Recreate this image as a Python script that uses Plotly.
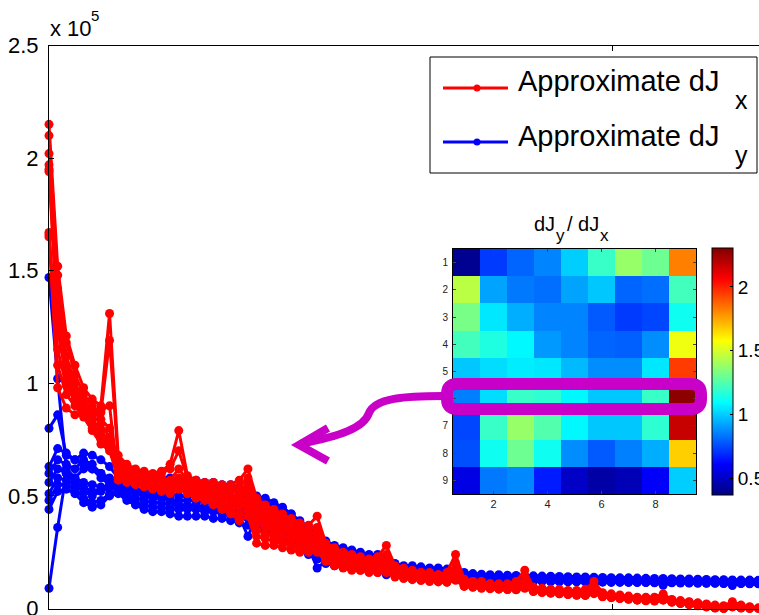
import plotly.graph_objects as go

# ---------------- data (values in units of 1e5) ----------------
idx = list(range(1, 84))

dJx_1 = [2.15, 1.52, 1.21, 1.08, 0.98, 0.93, 0.90, 1.31,
         0.68, 0.64, 0.62, 0.61, 0.60, 0.61, 0.64, 0.79,
         0.59, 0.57, 0.56, 0.56, 0.55, 0.55, 0.57, 0.62,
         0.49, 0.46, 0.44, 0.42, 0.40, 0.38, 0.37, 0.41,
         0.29, 0.27, 0.25, 0.24, 0.23, 0.22, 0.23, 0.28,
         0.19, 0.18, 0.17, 0.16, 0.16, 0.15, 0.16, 0.24,
         0.13, 0.12, 0.12, 0.11, 0.11, 0.11, 0.12, 0.17,
         0.095, 0.09, 0.085, 0.085, 0.08, 0.08, 0.085, 0.12,
         0.07, 0.065, 0.06, 0.055, 0.05, 0.05, 0.05, 0.065,
         0.04, 0.035, 0.03, 0.025, 0.02, 0.015, 0.012, 0.03,
         0.015, 0.008, 0.003]
dJx_2 = [2.10, 1.48, 1.18, 1.04, 0.95, 0.90, 0.87, 1.19,
         0.66, 0.63, 0.61, 0.60, 0.59, 0.60, 0.62, 0.70,
         0.58, 0.56, 0.55, 0.54, 0.54, 0.53, 0.54, 0.58,
         0.47, 0.44, 0.42, 0.40, 0.38, 0.36, 0.35, 0.36,
         0.28, 0.26, 0.24, 0.23, 0.22, 0.21, 0.21, 0.24,
         0.18, 0.17, 0.16, 0.16, 0.15, 0.15, 0.15, 0.20,
         0.125, 0.12, 0.115, 0.11, 0.105, 0.10, 0.105, 0.14,
         0.09, 0.085, 0.08, 0.08, 0.075, 0.075, 0.075, 0.10,
         0.065, 0.06, 0.055, 0.05, 0.048, 0.045, 0.045, 0.055,
         0.038, 0.032, 0.028, 0.022, 0.018, 0.012, 0.008, 0.022,
         0.012, 0.006, 0.0]
dJx_3 = [2.02, 1.42, 1.12, 1.00, 0.93, 0.88, 0.84, 0.80,
         0.65, 0.62, 0.60, 0.59, 0.58, 0.58, 0.57, 0.62,
         0.57, 0.55, 0.54, 0.53, 0.52, 0.52, 0.52, 0.55,
         0.45, 0.42, 0.40, 0.38, 0.36, 0.35, 0.33, 0.34,
         0.27, 0.25, 0.23, 0.22, 0.21, 0.20, 0.20, 0.22,
         0.17, 0.16, 0.155, 0.15, 0.145, 0.14, 0.14, 0.17,
         0.12, 0.115, 0.11, 0.105, 0.10, 0.10, 0.10, 0.12,
         0.088, 0.083, 0.08, 0.076, 0.073, 0.07, 0.07, 0.085,
         0.062, 0.058, 0.053, 0.05, 0.046, 0.043, 0.042, 0.05,
         0.036, 0.03, 0.025, 0.02, 0.015, 0.01, 0.006, 0.018,
         0.01, 0.004, -0.002]
dJx_4 = [1.97, 1.36, 1.08, 0.97, 0.91, 0.86, 0.82, 0.76,
         0.63, 0.61, 0.59, 0.58, 0.57, 0.57, 0.56, 0.58,
         0.56, 0.54, 0.53, 0.52, 0.51, 0.50, 0.50, 0.52,
         0.43, 0.40, 0.38, 0.36, 0.34, 0.33, 0.31, 0.32,
         0.26, 0.24, 0.22, 0.21, 0.20, 0.19, 0.19, 0.21,
         0.165, 0.155, 0.15, 0.145, 0.14, 0.135, 0.135, 0.16,
         0.115, 0.11, 0.105, 0.10, 0.098, 0.095, 0.095, 0.11,
         0.085, 0.08, 0.077, 0.073, 0.07, 0.067, 0.066, 0.08,
         0.06, 0.055, 0.05, 0.047, 0.044, 0.04, 0.04, 0.046,
         0.034, 0.028, 0.023, 0.018, 0.013, 0.008, 0.004, 0.015,
         0.008, 0.002, -0.004]
dJx_5 = [1.95, 1.30, 1.05, 0.95, 0.89, 0.84, 0.79, 0.74,
         0.62, 0.60, 0.58, 0.57, 0.56, 0.56, 0.55, 0.57,
         0.55, 0.53, 0.52, 0.51, 0.50, 0.49, 0.48, 0.50,
         0.41, 0.38, 0.36, 0.34, 0.33, 0.31, 0.30, 0.30,
         0.25, 0.23, 0.21, 0.20, 0.19, 0.18, 0.18, 0.20,
         0.16, 0.15, 0.145, 0.14, 0.135, 0.13, 0.13, 0.15,
         0.11, 0.105, 0.10, 0.097, 0.094, 0.09, 0.09, 0.105,
         0.082, 0.078, 0.074, 0.07, 0.067, 0.064, 0.063, 0.075,
         0.058, 0.053, 0.048, 0.045, 0.042, 0.038, 0.037, 0.043,
         0.032, 0.026, 0.021, 0.016, 0.011, 0.006, 0.002, 0.012,
         0.006, 0.0, -0.005]
dJx_6 = [1.94, 1.24, 1.02, 0.93, 0.87, 0.82, 0.77, 0.72,
         0.61, 0.59, 0.57, 0.56, 0.56, 0.55, 0.54, 0.56,
         0.54, 0.52, 0.51, 0.50, 0.49, 0.48, 0.47, 0.48,
         0.38, 0.36, 0.34, 0.32, 0.31, 0.30, 0.28, 0.29,
         0.24, 0.22, 0.21, 0.19, 0.18, 0.18, 0.17, 0.19,
         0.155, 0.145, 0.14, 0.135, 0.13, 0.127, 0.125, 0.14,
         0.105, 0.10, 0.096, 0.093, 0.09, 0.087, 0.086, 0.098,
         0.08, 0.076, 0.072, 0.068, 0.065, 0.062, 0.061, 0.072,
         0.056, 0.051, 0.047, 0.044, 0.04, 0.037, 0.036, 0.041,
         0.031, 0.025, 0.02, 0.015, 0.01, 0.005, 0.001, 0.01,
         0.005, -0.002, -0.006]
dJx_7 = [1.67, 1.15, 0.99, 0.92, 0.86, 0.80, 0.75, 0.71,
         0.60, 0.58, 0.57, 0.56, 0.55, 0.54, 0.53, 0.55,
         0.53, 0.51, 0.50, 0.49, 0.47, 0.46, 0.45, 0.46,
         0.35, 0.33, 0.32, 0.30, 0.29, 0.28, 0.27, 0.27,
         0.23, 0.21, 0.20, 0.19, 0.18, 0.17, 0.17, 0.18,
         0.15, 0.14, 0.135, 0.13, 0.127, 0.124, 0.122, 0.135,
         0.103, 0.098, 0.094, 0.091, 0.088, 0.086, 0.085, 0.095,
         0.078, 0.074, 0.07, 0.067, 0.064, 0.061, 0.06, 0.07,
         0.054, 0.05, 0.046, 0.043, 0.039, 0.036, 0.035, 0.04,
         0.03, 0.024, 0.019, 0.014, 0.009, 0.004, 0.0, 0.009,
         0.004, -0.003, -0.007]
dJx_8 = [1.65, 1.08, 0.95, 0.90, 0.85, 0.79, 0.73, 0.70,
         0.58, 0.57, 0.56, 0.55, 0.54, 0.53, 0.52, 0.54,
         0.52, 0.50, 0.49, 0.48, 0.46, 0.44, 0.42, 0.44,
         0.32, 0.31, 0.30, 0.29, 0.28, 0.27, 0.26, 0.26,
         0.22, 0.20, 0.19, 0.18, 0.17, 0.17, 0.16, 0.17,
         0.145, 0.137, 0.132, 0.128, 0.124, 0.121, 0.12, 0.13,
         0.10, 0.096, 0.092, 0.089, 0.087, 0.085, 0.084, 0.093,
         0.077, 0.073, 0.069, 0.066, 0.063, 0.06, 0.059, 0.068,
         0.053, 0.049, 0.045, 0.042, 0.038, 0.035, 0.034, 0.038,
         0.029, 0.023, 0.018, 0.013, 0.008, 0.003, -0.001, 0.008,
         0.003, -0.004, -0.008]
dJx_9 = [1.66, 0.98, 0.89, 0.86, 0.86, 0.87, 0.88, 0.90,
         0.57, 0.56, 0.55, 0.54, 0.53, 0.52, 0.51, 0.53,
         0.51, 0.49, 0.48, 0.46, 0.44, 0.42, 0.39, 0.41,
         0.29, 0.28, 0.28, 0.27, 0.26, 0.25, 0.25, 0.25,
         0.21, 0.19, 0.18, 0.17, 0.17, 0.16, 0.16, 0.16,
         0.14, 0.133, 0.128, 0.124, 0.12, 0.118, 0.116, 0.125,
         0.098, 0.094, 0.09, 0.088, 0.086, 0.084, 0.083, 0.09,
         0.075, 0.071, 0.068, 0.065, 0.062, 0.059, 0.058, 0.066,
         0.052, 0.048, 0.044, 0.041, 0.037, 0.034, 0.033, 0.037,
         0.028, 0.022, 0.017, 0.012, 0.007, 0.002, -0.002, 0.007,
         0.002, -0.005, -0.009]

dJy_1 = [1.47, 1.02, 0.62, 0.58, 0.56, 0.55, 0.54, 0.53,
         0.60, 0.60, 0.59, 0.59, 0.59, 0.58, 0.58, 0.57,
         0.57, 0.57, 0.56, 0.56, 0.55, 0.55, 0.54, 0.53,
         0.50, 0.49, 0.47, 0.45, 0.42, 0.38, 0.35, 0.33,
         0.30, 0.28, 0.27, 0.26, 0.25, 0.24, 0.24, 0.23,
         0.20, 0.19, 0.19, 0.185, 0.18, 0.18, 0.175, 0.17,
         0.16, 0.155, 0.152, 0.15, 0.15, 0.148, 0.147, 0.146,
         0.145, 0.144, 0.143, 0.142, 0.141, 0.14, 0.14, 0.139,
         0.138, 0.137, 0.136, 0.136, 0.135, 0.134, 0.133, 0.133,
         0.132, 0.131, 0.131, 0.13, 0.129, 0.128, 0.128, 0.127,
         0.126, 0.126, 0.125]
dJy_2 = [0.80, 0.86, 0.68, 0.66, 0.69, 0.68, 0.66, 0.63,
         0.58, 0.58, 0.57, 0.57, 0.57, 0.56, 0.56, 0.55,
         0.55, 0.55, 0.54, 0.54, 0.53, 0.53, 0.52, 0.51,
         0.48, 0.47, 0.45, 0.44, 0.42, 0.39, 0.36, 0.32,
         0.28, 0.26, 0.25, 0.24, 0.24, 0.23, 0.23, 0.22,
         0.19, 0.185, 0.18, 0.18, 0.175, 0.175, 0.17, 0.165,
         0.155, 0.15, 0.148, 0.146, 0.145, 0.144, 0.143, 0.142,
         0.141, 0.14, 0.139, 0.138, 0.137, 0.137, 0.136, 0.135,
         0.134, 0.134, 0.133, 0.132, 0.131, 0.131, 0.13, 0.129,
         0.129, 0.128, 0.127, 0.127, 0.126, 0.125, 0.125, 0.124,
         0.124, 0.123, 0.123]
dJy_3 = [0.63, 0.71, 0.69, 0.66, 0.64, 0.62, 0.60, 0.58,
         0.56, 0.56, 0.55, 0.55, 0.54, 0.54, 0.53, 0.53,
         0.53, 0.53, 0.52, 0.52, 0.51, 0.50, 0.50, 0.49,
         0.46, 0.45, 0.43, 0.42, 0.40, 0.37, 0.34, 0.31,
         0.27, 0.25, 0.24, 0.23, 0.23, 0.22, 0.22, 0.21,
         0.185, 0.18, 0.175, 0.172, 0.17, 0.168, 0.165, 0.16,
         0.15, 0.146, 0.144, 0.142, 0.141, 0.14, 0.139, 0.138,
         0.137, 0.136, 0.135, 0.134, 0.134, 0.133, 0.132, 0.132,
         0.131, 0.13, 0.13, 0.129, 0.128, 0.128, 0.127, 0.126,
         0.126, 0.125, 0.125, 0.124, 0.123, 0.123, 0.122, 0.122,
         0.121, 0.121, 0.12]
dJy_4 = [0.60, 0.66, 0.64, 0.62, 0.66, 0.64, 0.60, 0.57,
         0.55, 0.54, 0.53, 0.52, 0.52, 0.51, 0.51, 0.50,
         0.50, 0.50, 0.50, 0.49, 0.49, 0.48, 0.47, 0.47,
         0.44, 0.43, 0.41, 0.40, 0.38, 0.35, 0.32, 0.29,
         0.25, 0.24, 0.23, 0.22, 0.22, 0.21, 0.21, 0.20,
         0.18, 0.175, 0.17, 0.168, 0.165, 0.163, 0.16, 0.158,
         0.146, 0.142, 0.14, 0.138, 0.137, 0.136, 0.135, 0.134,
         0.134, 0.133, 0.132, 0.131, 0.131, 0.13, 0.13, 0.129,
         0.128, 0.128, 0.127, 0.126, 0.126, 0.125, 0.125, 0.124,
         0.124, 0.123, 0.123, 0.122, 0.121, 0.121, 0.12, 0.12,
         0.119, 0.119, 0.118]
dJy_5 = [0.56, 0.62, 0.60, 0.58, 0.62, 0.62, 0.58, 0.55,
         0.54, 0.52, 0.51, 0.50, 0.49, 0.49, 0.48, 0.48,
         0.48, 0.48, 0.47, 0.47, 0.46, 0.46, 0.45, 0.44,
         0.42, 0.41, 0.39, 0.37, 0.35, 0.32, 0.29, 0.27,
         0.24, 0.23, 0.22, 0.21, 0.21, 0.20, 0.20, 0.19,
         0.175, 0.17, 0.166, 0.163, 0.16, 0.158, 0.156, 0.154,
         0.142, 0.138, 0.136, 0.134, 0.133, 0.132, 0.131, 0.13,
         0.13, 0.129, 0.128, 0.128, 0.127, 0.127, 0.126, 0.126,
         0.125, 0.125, 0.124, 0.123, 0.123, 0.122, 0.122, 0.121,
         0.121, 0.12, 0.12, 0.119, 0.119, 0.118, 0.118, 0.117,
         0.117, 0.116, 0.116]
dJy_6 = [0.51, 0.58, 0.57, 0.55, 0.52, 0.50, 0.52, 0.54,
         0.53, 0.51, 0.49, 0.48, 0.47, 0.47, 0.46, 0.46,
         0.46, 0.46, 0.45, 0.45, 0.44, 0.43, 0.43, 0.42,
         0.40, 0.39, 0.37, 0.35, 0.33, 0.30, 0.27, 0.25,
         0.23, 0.22, 0.21, 0.20, 0.20, 0.19, 0.19, 0.185,
         0.17, 0.165, 0.162, 0.16, 0.157, 0.155, 0.153, 0.151,
         0.138, 0.134, 0.132, 0.13, 0.129, 0.128, 0.127, 0.127,
         0.126, 0.126, 0.125, 0.125, 0.124, 0.124, 0.123, 0.123,
         0.122, 0.122, 0.121, 0.121, 0.12, 0.12, 0.119, 0.119,
         0.118, 0.118, 0.117, 0.117, 0.116, 0.116, 0.115, 0.115,
         0.115, 0.114, 0.114]
dJy_7 = [0.48, 0.55, 0.55, 0.53, 0.49, 0.47, 0.48, 0.51,
         0.52, 0.49, 0.47, 0.46, 0.45, 0.45, 0.44, 0.44,
         0.44, 0.44, 0.43, 0.43, 0.42, 0.41, 0.40, 0.40,
         0.38, 0.37, 0.35, 0.33, 0.31, 0.28, 0.25, 0.23,
         0.22, 0.21, 0.20, 0.19, 0.19, 0.18, 0.18, 0.18,
         0.165, 0.16, 0.158, 0.156, 0.154, 0.152, 0.15, 0.148,
         0.134, 0.13, 0.128, 0.127, 0.126, 0.125, 0.124, 0.124,
         0.123, 0.123, 0.122, 0.122, 0.121, 0.121, 0.12, 0.12,
         0.12, 0.119, 0.119, 0.118, 0.118, 0.117, 0.117, 0.116,
         0.116, 0.115, 0.115, 0.115, 0.114, 0.114, 0.113, 0.113,
         0.113, 0.112, 0.112]
dJy_8 = [0.44, 0.52, 0.53, 0.51, 0.47, 0.45, 0.46, 0.50,
         0.51, 0.48, 0.46, 0.44, 0.43, 0.43, 0.42, 0.41,
         0.41, 0.41, 0.41, 0.40, 0.40, 0.39, 0.38, 0.37,
         0.36, 0.35, 0.33, 0.31, 0.29, 0.26, 0.24, 0.22,
         0.20, 0.19, 0.185, 0.18, 0.175, 0.17, 0.17, 0.17,
         0.16, 0.156, 0.154, 0.152, 0.15, 0.148, 0.147, 0.146,
         0.13, 0.127, 0.125, 0.124, 0.123, 0.122, 0.121, 0.121,
         0.12, 0.12, 0.119, 0.119, 0.118, 0.118, 0.118, 0.117,
         0.117, 0.116, 0.116, 0.116, 0.115, 0.115, 0.114, 0.114,
         0.114, 0.113, 0.113, 0.112, 0.112, 0.112, 0.111, 0.111,
         0.111, 0.11, 0.11]
dJy_9 = [0.09, 0.36, 0.60, 0.56, 0.54, 0.52, 0.53, 0.55,
         0.55, 0.53, 0.52, 0.51, 0.50, 0.50, 0.49, 0.45,
         0.45, 0.45, 0.44, 0.44, 0.43, 0.42, 0.41, 0.32,
         0.41, 0.39, 0.37, 0.35, 0.33, 0.30, 0.27, 0.18,
         0.21, 0.20, 0.19, 0.19, 0.18, 0.18, 0.17, 0.15,
         0.165, 0.16, 0.158, 0.155, 0.153, 0.151, 0.15, 0.13,
         0.135, 0.132, 0.13, 0.129, 0.128, 0.127, 0.126, 0.107,
         0.124, 0.123, 0.122, 0.122, 0.121, 0.12, 0.12, 0.104,
         0.119, 0.118, 0.118, 0.117, 0.117, 0.116, 0.116, 0.103,
         0.115, 0.115, 0.114, 0.114, 0.113, 0.113, 0.112, 0.102,
         0.112, 0.111, 0.111]

dJx_series = [dJx_1, dJx_2, dJx_3, dJx_4, dJx_5, dJx_6, dJx_7, dJx_8, dJx_9]
dJy_series = [dJy_1, dJy_2, dJy_3, dJy_4, dJy_5, dJy_6, dJy_7, dJy_8, dJy_9]

ratio_rows = [1, 2, 3, 4, 5, 6, 7, 8, 9]
ratio_cols = [1, 2, 3, 4, 5, 6, 7, 8, 9]
ratio_z = [
    [0.40, 0.72, 0.80, 0.86, 1.00, 1.20, 1.38, 1.30, 1.82],
    [1.45, 0.92, 0.84, 0.82, 0.92, 0.99, 0.80, 0.82, 1.22],
    [1.32, 1.05, 0.94, 0.86, 0.86, 0.78, 0.72, 0.74, 1.12],
    [1.22, 1.15, 1.08, 0.90, 0.86, 0.80, 0.79, 0.88, 1.55],
    [0.99, 1.03, 1.06, 1.05, 0.96, 0.88, 0.88, 1.05, 1.95],
    [0.85, 1.03, 1.20, 1.18, 1.08, 0.99, 0.99, 1.20, 2.28],
    [0.74, 1.20, 1.38, 1.25, 1.08, 0.99, 0.99, 1.18, 2.17],
    [0.76, 1.12, 1.30, 1.12, 0.88, 0.78, 0.85, 0.94, 1.67],
    [0.56, 0.84, 0.87, 0.66, 0.50, 0.44, 0.47, 0.60, 1.00],
]

y_ticks = [0, 0.5, 1, 1.5, 2, 2.5]
y_ticktext = ["0", "0.5", "1", "1.5", "2", "2.5"]
x_ticks = [66.2]
cb_ticks = [0.5, 1, 1.5, 2]
legend_labels = ["Approximate dJ", "Approximate dJ"]
legend_subs = ["x", "y"]

# ---------------- figure ----------------
W, H = 759, 615
FONT = "Liberation Sans, Arial, Helvetica, sans-serif"
RED = "rgb(255,0,0)"
BLUE = "rgb(0,0,255)"
MAG = "rgb(200,0,200)"


def fx(px):
    return px / W


def fy(py):
    return 1 - py / H


jet = [[0.0, "rgb(0,0,128)"], [0.125, "rgb(0,0,255)"], [0.375, "rgb(0,255,255)"],
       [0.625, "rgb(255,255,0)"], [0.875, "rgb(255,0,0)"], [1.0, "rgb(128,0,0)"]]

fig = go.Figure()

for s in dJy_series:
    fig.add_trace(go.Scatter(x=idx, y=s, mode="lines+markers", xaxis="x", yaxis="y",
                             line=dict(color=BLUE, width=3),
                             marker=dict(color=BLUE, size=9),
                             cliponaxis=False, showlegend=False, hoverinfo="skip"))
for s in dJx_series:
    fig.add_trace(go.Scatter(x=idx, y=s, mode="lines+markers", xaxis="x", yaxis="y",
                             line=dict(color=RED, width=3),
                             marker=dict(color=RED, size=9),
                             cliponaxis=False, showlegend=False, hoverinfo="skip"))

fig.add_trace(go.Heatmap(z=ratio_z, x=ratio_cols, y=ratio_rows, xaxis="x2", yaxis="y2",
                         colorscale=jet, zmin=0.367, zmax=2.305, hoverinfo="skip",
                         colorbar=dict(x=fx(712), xanchor="left", xpad=0,
                                       y=fy(371.5), yanchor="middle", ypad=0,
                                       len=247, lenmode="pixels", thickness=21,
                                       thicknessmode="pixels",
                                       outlinewidth=1, outlinecolor="black",
                                       tickvals=cb_ticks, ticktext=["0.5", "1", "1.5", "2"],
                                       ticks="inside", ticklen=3, tickcolor="black",
                                       ticklabeloverflow="allow",
                                       tickfont=dict(family=FONT, size=19, color="black"))))

# legend samples (pixel-coordinate overlay axes)
leg_y = [88, 142]
for ly, col in zip(leg_y, [RED, BLUE]):
    fig.add_trace(go.Scatter(x=[443, 508], y=[ly, ly], mode="lines", xaxis="x3", yaxis="y3",
                             line=dict(color=col, width=3), showlegend=False, hoverinfo="skip"))
    fig.add_trace(go.Scatter(x=[477], y=[ly], mode="markers", xaxis="x3", yaxis="y3",
                             marker=dict(color=col, size=7), showlegend=False, hoverinfo="skip"))

ax_line = dict(showline=True, linecolor="black", linewidth=1, showgrid=False,
               zeroline=False, automargin=False)

fig.update_layout(
    width=W, height=H, autosize=False,
    margin=dict(l=0, r=0, t=0, b=0, pad=0, autoexpand=False),
    paper_bgcolor="white", plot_bgcolor="rgba(0,0,0,0)",
    font=dict(family=FONT, color="black"),
    hovermode=False,
    xaxis=dict(domain=[fx(49), 1.0], range=[1, 1 + (W - 49) / 8.65], mirror="ticks",
               tickvals=x_ticks, ticks="inside", ticklen=5, tickcolor="black",
               showticklabels=False, **ax_line),
    yaxis=dict(domain=[fy(608.5), fy(45.5)], range=[0, 2.5],
               tickvals=y_ticks, ticktext=y_ticktext, ticks="inside", ticklen=5,
               tickcolor="black", ticklabelstandoff=5, ticklabeloverflow="allow",
               tickfont=dict(family=FONT, size=22, color="black"), **ax_line),
    xaxis2=dict(domain=[fx(453), fx(696)], range=[0.5, 9.5], anchor="y2",
                tickvals=[2, 4, 6, 8], ticks="inside", ticklen=3, mirror="ticks",
                tickfont=dict(family=FONT, size=11, color="#222"), **ax_line),
    yaxis2=dict(domain=[fy(494), fy(249)], range=[9.5, 0.5], anchor="x2",
                tickvals=ratio_rows, ticks="inside", ticklen=3, mirror="ticks",
                ticklabelstandoff=2,
                tickfont=dict(family=FONT, size=10, color="#222"), **ax_line),
    xaxis3=dict(domain=[0, 1], range=[0, W], anchor="y3", visible=False,
                fixedrange=True, automargin=False),
    yaxis3=dict(domain=[0, 1], range=[H, 0], anchor="x3", visible=False,
                fixedrange=True, automargin=False),
)

shapes = [
    # legend box
    dict(type="rect", xref="x3", yref="y3", x0=430, x1=757, y0=57, y1=173,
         line=dict(color="black", width=1), layer="above"),
    # magenta rounded rectangle around row 6
    dict(type="path", xref="x3", yref="y3",
         path="M 457 384 L 691 384 Q 701 384 701 394 L 701 399 Q 701 409 691 409 "
              "L 457 409 Q 447 409 447 399 L 447 394 Q 447 384 457 384 Z",
         line=dict(color=MAG, width=12), layer="above"),
    # curved arrow
    dict(type="path", xref="x3", yref="y3",
         path="M 443 396 C 405 396 375 398 369 413 C 364 428 340 436 300 444",
         line=dict(color=MAG, width=8), layer="above"),
    dict(type="path", xref="x3", yref="y3",
         path="M 328 428 L 299 445 L 328 461",
         line=dict(color=MAG, width=8), layer="above"),
]
fig.update_layout(shapes=shapes)

ann = []
# exponent label
ann.append(dict(xref="x3", yref="y3", x=48, y=28, text="x 10", showarrow=False,
                xanchor="left", yanchor="middle", font=dict(family=FONT, size=22, color="black")))
ann.append(dict(xref="x3", yref="y3", x=89, y=15, text="5", showarrow=False,
                xanchor="left", yanchor="middle", font=dict(family=FONT, size=15, color="black")))
# legend texts
for ly, lab, sub in zip([81, 136], legend_labels, legend_subs):
    ann.append(dict(xref="x3", yref="y3", x=516, y=ly, text=lab, showarrow=False,
                    xanchor="left", yanchor="middle", font=dict(family=FONT, size=29, color="black")))
    ann.append(dict(xref="x3", yref="y3", x=733, y=ly + 19, text=sub, showarrow=False,
                    xanchor="left", yanchor="middle", font=dict(family=FONT, size=25, color="black")))
# heatmap title
ann.append(dict(xref="x3", yref="y3", x=532, y=224, text="dJ", showarrow=False,
                xanchor="left", yanchor="middle", font=dict(family=FONT, size=20, color="black")))
ann.append(dict(xref="x3", yref="y3", x=554, y=235, text="y", showarrow=False,
                xanchor="left", yanchor="middle", font=dict(family=FONT, size=17, color="black")))
ann.append(dict(xref="x3", yref="y3", x=565, y=224, text="/ dJ", showarrow=False,
                xanchor="left", yanchor="middle", font=dict(family=FONT, size=20, color="black")))
ann.append(dict(xref="x3", yref="y3", x=598, y=235, text="x", showarrow=False,
                xanchor="left", yanchor="middle", font=dict(family=FONT, size=17, color="black")))
fig.update_layout(annotations=ann)

# the page's default 8px body margin would push the 759x615 figure off the window
fig.write_html("out.html",
               config={"displayModeBar": False, "staticPlot": True},
               post_script="document.body.style.margin='0px';"
                           "document.body.style.overflow='hidden';")
